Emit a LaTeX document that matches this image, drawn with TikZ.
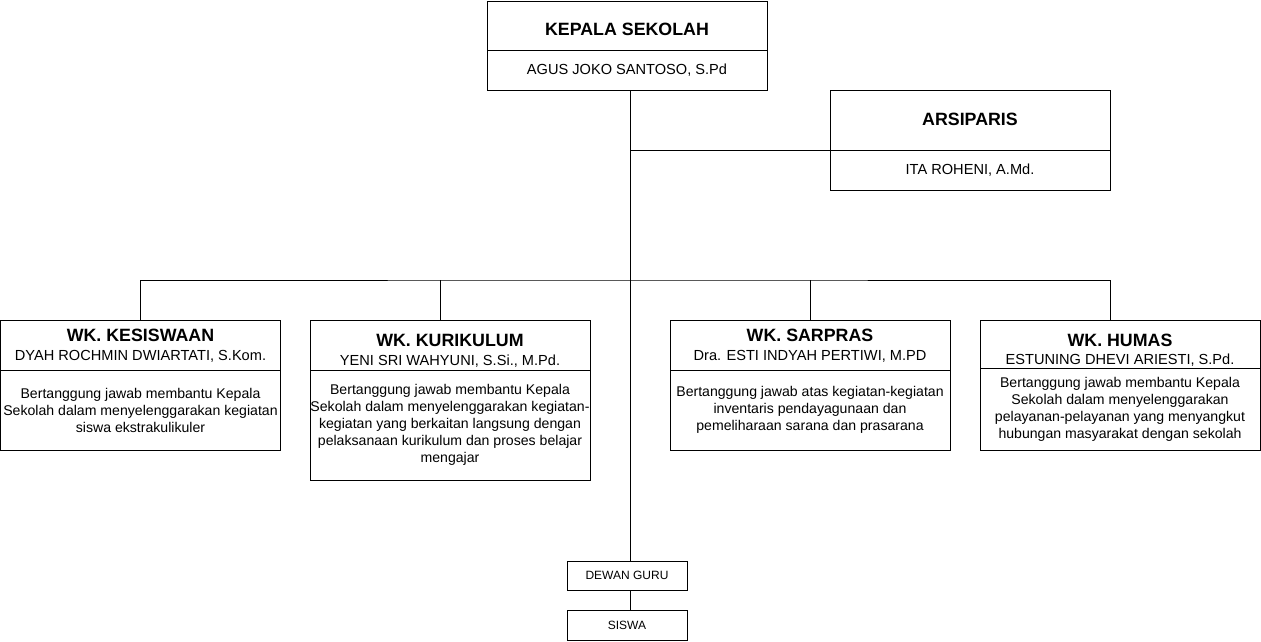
\documentclass[tikz,border=0pt]{standalone}
\usepackage{fontspec}
\setmainfont{Liberation Sans}
\usepackage{tikz}
\usetikzlibrary{positioning}

\tikzset{
  kotak/.style={draw, line width=1pt, inner sep=0pt, outer sep=0pt, minimum width=280},
  judul/.style={font=\fontsize{17.8}{21}\selectfont\bfseries},
  nama/.style={font=\fontsize{14.6}{17}\selectfont},
  tugas/.style={font=\fontsize{14.1}{17}\selectfont, align=center, inner sep=0pt},
  kecil/.style={font=\fontsize{12}{14}\selectfont},
  garis/.style={line width=1pt}
}

\begin{document}
\begin{tikzpicture}[x=1pt,y=-1pt]
\useasboundingbox (0,0) rectangle (1261,641);

% kepala sekolah dan arsiparis
\node[kotak, minimum height=49] (kepsek) at (627,25.5) {};
\node[kotak, minimum height=40, below=0pt of kepsek] (kepseknama) {};
\node[judul] (kepsekjudul) at (627,29) {KEPALA SEKOLAH};
\node[nama] (kepsekisi) at (627,70) {AGUS JOKO SANTOSO, S.Pd};
\node[kotak, minimum height=60] (arsip) at (970,120) {};
\node[kotak, minimum height=40, below=0pt of arsip] (arsipnama) {};
\node[judul] (arsipjudul) at (970,119) {ARSIPARIS};
\node[nama] (arsipisi) at (970,170) {ITA ROHENI, A.Md.};

% wakil kepala
\node[kotak, minimum height=50] (kesiswaan) at (140.5,345) {};
\node[kotak, minimum height=80, below=0pt of kesiswaan] (kesiswaantugas) {};
\node[judul] (kesiswaanjudul) at (140.5,335) {WK. KESISWAAN};
\node[nama] (kesiswaannama) at (140.5,356) {DYAH ROCHMIN DWIARTATI, S.Kom.};
\node[tugas] (kesiswaanisi) at (140.5,410) {Bertanggung jawab membantu Kepala\\Sekolah dalam menyelenggarakan kegiatan\\siswa ekstrakulikuler};

\node[kotak, minimum height=50] (kurikulum) at (450,345) {};
\node[kotak, minimum height=110, below=0pt of kurikulum] (kurikulumtugas) {};
\node[judul] (kurikulumjudul) at (450,340) {WK. KURIKULUM};
\node[nama] (kurikulumnama) at (450,361) {YENI SRI WAHYUNI, S.Si., M.Pd.};
\node[tugas] (kurikulumisi) at (450,425) {Bertanggung jawab membantu Kepala\\Sekolah dalam menyelenggarakan kegiatan-\\kegiatan yang berkaitan langsung dengan\\pelaksanaan kurikulum dan proses belajar\\mengajar};

\node[kotak, minimum height=50] (sarpras) at (810,345) {};
\node[kotak, minimum height=80, below=0pt of sarpras] (sarprastugas) {};
\node[judul] (sarprasjudul) at (810,335) {WK. SARPRAS};
\node[nama] (sarprasnama) at (810,356) {Dra. ESTI INDYAH PERTIWI, M.PD};
\node[tugas] (sarprasisi) at (810,410) {Bertanggung jawab atas kegiatan-kegiatan\\inventaris pendayagunaan dan\\pemeliharaan sarana dan prasarana};

\node[kotak, minimum height=48] (humas) at (1120,344) {};
\node[kotak, minimum height=82, below=0pt of humas] (humastugas) {};
\node[judul] (humasjudul) at (1120,340) {WK. HUMAS};
\node[nama] (humasnama) at (1120,360) {ESTUNING DHEVI ARIESTI, S.Pd.};
\node[tugas] (humasisi) at (1120,409.5) {Bertanggung jawab membantu Kepala\\Sekolah dalam menyelenggarakan\\pelayanan-pelayanan yang menyangkut\\hubungan masyarakat dengan sekolah};

% dewan guru dan siswa
\node[kotak, kecil, minimum width=120, minimum height=29] (dewan) at (627,575.5) {DEWAN GURU};
\node[kotak, kecil, minimum width=120, minimum height=30] (siswa) at (627,625) {SISWA};

% garis
\coordinate (pusat) at ([xshift=3]kepseknama.south);
\coordinate (cabang) at (630,280);
\draw[garis] (pusat) -- ([xshift=3]dewan.north);
\draw[garis] (arsipnama.north west) -- (arsipnama.north west -| pusat);
\draw[garis] (kesiswaan.north) |- (cabang) -| ([xshift=-10]humas.north);
\draw[garis] ([xshift=-10]kurikulum.north) -- ([xshift=-10]kurikulum.north |- cabang);
\draw[garis] (sarpras.north) -- (sarpras.north |- cabang);
\draw[garis] ([xshift=3]dewan.south) -- ([xshift=3]siswa.north);

\end{tikzpicture}
\end{document}
